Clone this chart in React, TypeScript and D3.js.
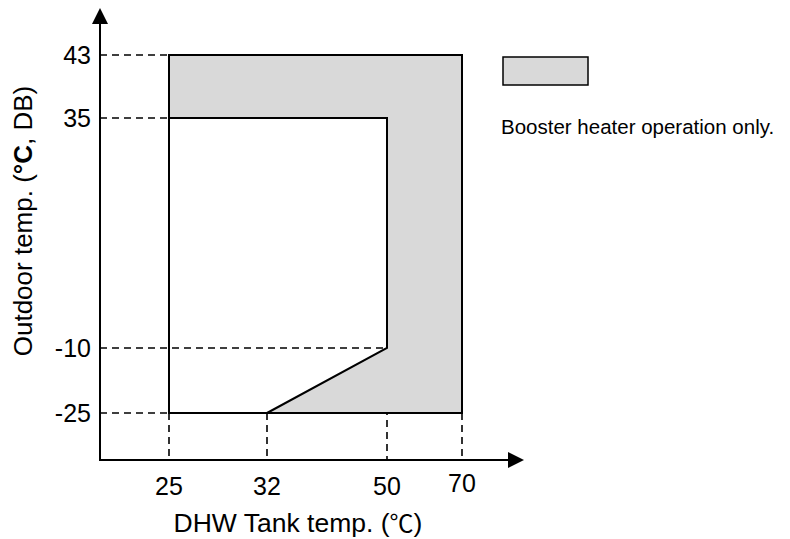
import React from "react";
import * as d3 from "d3";

const xTicks = [25, 32, 50, 70];
const yTicks = [-25, -10, 35, 43];
const xTickLabels = ["25", "32", "50", "70"];
const yTickLabels = ["-25", "-10", "35", "43"];
// Booster-only region (outer boundary), in data units [DHW tank temp, outdoor temp]
const shadedRegion: [number, number][] = [
  [25, 43], [70, 43], [70, -25], [32, -25], [50, -10], [50, 35], [25, 35],
];
// Remaining outline of the heat-pump region
const innerOutline: [number, number][] = [[25, 35], [25, -25], [32, -25]];
const legendLabel = "Booster heater operation only.";
const xTitle = "DHW Tank temp. (";
const yTitle = "Outdoor temp. (";

const FONT = "'Liberation Sans', Arial, sans-serif";

export default function App() {
  const x = d3.scaleLinear().domain(xTicks).range([169, 267, 387, 462]);
  const y = d3.scaleLinear().domain(yTicks).range([413, 348, 118, 55]);
  const x0 = 100;
  const y0 = 460;
  const line = d3.line<[number, number]>().x((d) => x(d[0])).y((d) => y(d[1]));

  const hGuides = [
    { v: 43, to: 25 },
    { v: 35, to: 25 },
    { v: -10, to: 50 },
    { v: -25, to: 25 },
  ];
  const vGuides = [
    { v: 25, from: -25 },
    { v: 32, from: -25 },
    { v: 50, from: -10 },
    { v: 70, from: -25 },
  ];

  return (
    <svg width={790} height={539} style={{ position: "absolute", left: 0, top: 0, background: "#fff" }}>
      {hGuides.map((g, i) => (
        <line key={"h" + i} x1={x0} x2={x(g.to)} y1={y(g.v)} y2={y(g.v)} stroke="#000" strokeWidth={1.6} strokeDasharray="7,5" />
      ))}
      {vGuides.map((g, i) => (
        <line key={"v" + i} x1={x(g.v)} x2={x(g.v)} y1={y(g.from)} y2={y0} stroke="#000" strokeWidth={1.6} strokeDasharray="7,5" />
      ))}
      <path d={line(shadedRegion) + "Z"} fill="#d9d9d9" stroke="#000" strokeWidth={2} strokeLinejoin="miter" />
      <path d={line(innerOutline) as string} fill="none" stroke="#000" strokeWidth={2} />
      <line x1={x0} x2={x0} y1={y0 + 1} y2={22} stroke="#000" strokeWidth={2} />
      <path d={`M${x0},8 L${x0 - 8},24 L${x0 + 8},24 Z`} fill="#000" />
      <line x1={x0 - 1} x2={510} y1={y0} y2={y0} stroke="#000" strokeWidth={2} />
      <path d={`M524,${y0} L508,${y0 - 8} L508,${y0 + 8} Z`} fill="#000" />
      {yTicks.map((t, i) => (
        <text key={"yt" + i} x={91} y={y(t)} dy="0.35em" textAnchor="end" fontFamily={FONT} fontSize={25}>
          {yTickLabels[i]}
        </text>
      ))}
      {xTicks.map((t, i) => (
        <text key={"xt" + i} x={x(t)} y={t === 70 ? 492 : 495} textAnchor="middle" fontFamily={FONT} fontSize={25}>
          {xTickLabels[i]}
        </text>
      ))}
      <text x={298} y={532} textAnchor="middle" fontFamily={FONT} fontSize={26.5}>
        {xTitle}
        <tspan fontFamily="'Noto Sans CJK JP', sans-serif" fontSize={24}>℃</tspan>)
      </text>
      <text transform="translate(32,221) rotate(-90)" textAnchor="middle" fontFamily={FONT} fontSize={26}>
        {yTitle}
        <tspan fontWeight="bold">°C</tspan>, DB)
      </text>
      <rect x={503} y={57} width={85} height={28} fill="#d9d9d9" stroke="#000" strokeWidth={1.5} />
      <text x={501} y={134} fontFamily={FONT} fontSize={20.5}>{legendLabel}</text>
    </svg>
  );
}
